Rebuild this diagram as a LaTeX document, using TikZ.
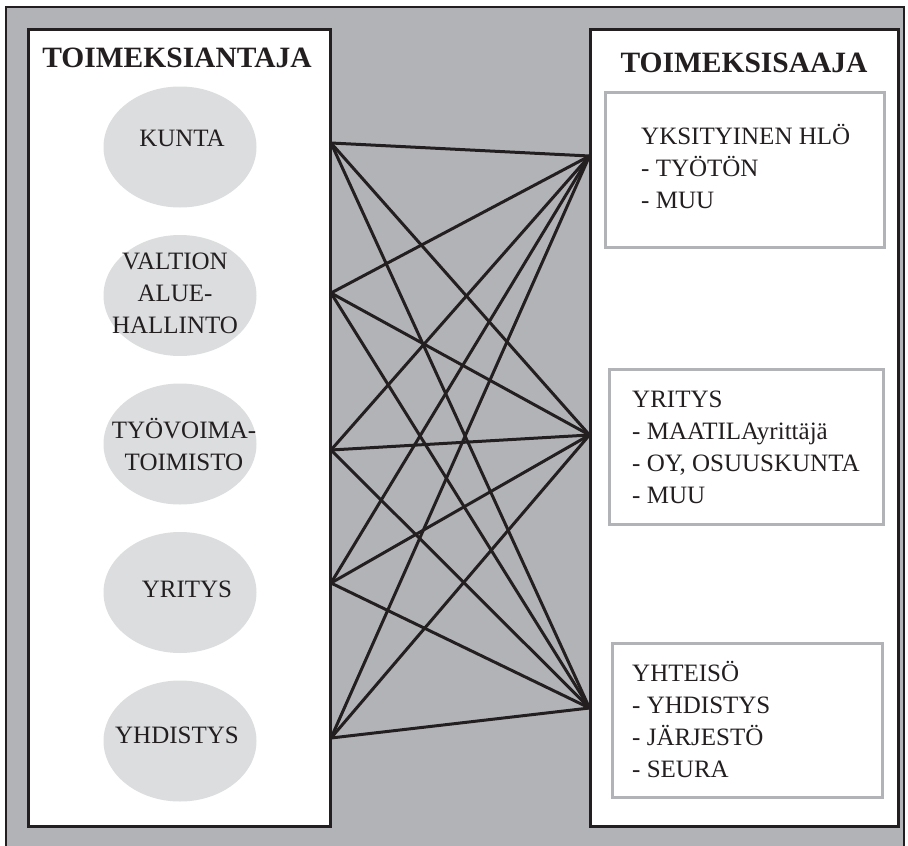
\documentclass[tikz,border=0pt]{standalone}
\usepackage{fontspec}
\setmainfont{Liberation Serif}
\usetikzlibrary{shapes.geometric}

\definecolor{panelgray}{HTML}{B2B3B6}
\definecolor{ovalgray}{HTML}{DCDDDF}
\definecolor{inkblack}{HTML}{231F20}

\begin{document}
\begin{tikzpicture}[x=1pt,y=-1pt,node distance=148.5pt,
      every node/.style={font=\fontsize{25}{32}\selectfont,text=inkblack},
      side box/.style={draw=inkblack,line width=3pt,fill=white,inner sep=0pt},
      party node/.style={ellipse,fill=ovalgray,minimum width=153pt,minimum height=121pt,inner sep=0pt},
      party text/.style={align=center,inner sep=0pt},
      kind box/.style={draw=panelgray,line width=3pt,fill=white,inner sep=0pt},
      kind text/.style={anchor=west,align=left,inner sep=0pt},
      title/.style={font=\fontsize{29.5}{36}\selectfont\bfseries},
      link/.style={draw=inkblack,line width=3pt}]
    \useasboundingbox (0,0) rectangle (908,846);
    \draw[draw=inkblack,fill=panelgray,line width=2pt] (6,7) rectangle (904,870);

    % the two sides
    \node[side box,minimum width=302pt,minimum height=797pt] (giver) at (179,428) {};
    \node[side box,minimum width=307.3pt,minimum height=797pt] (taker) at (744.35,428) {};
    \node[title] (givertitle) at (177,58) {TOIMEKSIANTAJA};
    \node[title] (takertitle) at (744,62.5) {TOIMEKSISAAJA};

    % who gives the job
    \node[party node,label={[party text,xshift=2pt,yshift=9pt]center:KUNTA}] (kunta) at (180,147) {};
    \node[party node,below of=kunta,label={[party text,xshift=-5pt,yshift=2pt]center:VALTION\\ALUE-\\HALLINTO}] (valtio) {};
    \node[party node,below of=valtio,label={[party text,xshift=4pt]center:TYÖVOIMA-\\TOIMISTO}] (tyovoima) {};
    \node[party node,below of=tyovoima,label={[party text,xshift=7pt,yshift=3pt]center:YRITYS}] (yritys) {};
    \node[party node,below of=yritys,label={[party text,xshift=-3pt,yshift=6pt]center:YHDISTYS}] (yhdistys) {};

    % who takes it
    \node[kind box,minimum width=279pt,minimum height=155.7pt] (henkilo) at (745.2,169.85) {};
    \node[kind box,minimum width=274pt,minimum height=155pt] (firma) at (746,446.5) {};
    \node[kind box,minimum width=270pt,minimum height=154pt] (yhteiso) at (747,720) {};
    \node[kind text] (henkilotext) at (641,166.5) {YKSITYINEN HLÖ\\- TYÖTÖN\\- MUU};
    \node[kind text] (firmatext) at (632,447.5) {YRITYS\\- MAATILAyrittäjä\\- OY, OSUUSKUNTA\\- MUU};
    \node[kind text] (yhteisotext) at (632,719.5) {YHTEISÖ\\- YHDISTYS\\- JÄRJESTÖ\\- SEURA};

    % ports on the box edges
    \coordinate (g1) at (331,143);
    \coordinate (g2) at (331,293);
    \coordinate (g3) at (331,450);
    \coordinate (g4) at (331,583);
    \coordinate (g5) at (331,738);
    \coordinate (t1) at (589.5,156);
    \coordinate (t2) at (589.5,435);
    \coordinate (t3) at (589.5,708);

    \foreach \g in {1,...,5}
      \foreach \t in {1,2,3}
        \path (g\g) edge[link] (t\t);
  \end{tikzpicture}
\end{document}
